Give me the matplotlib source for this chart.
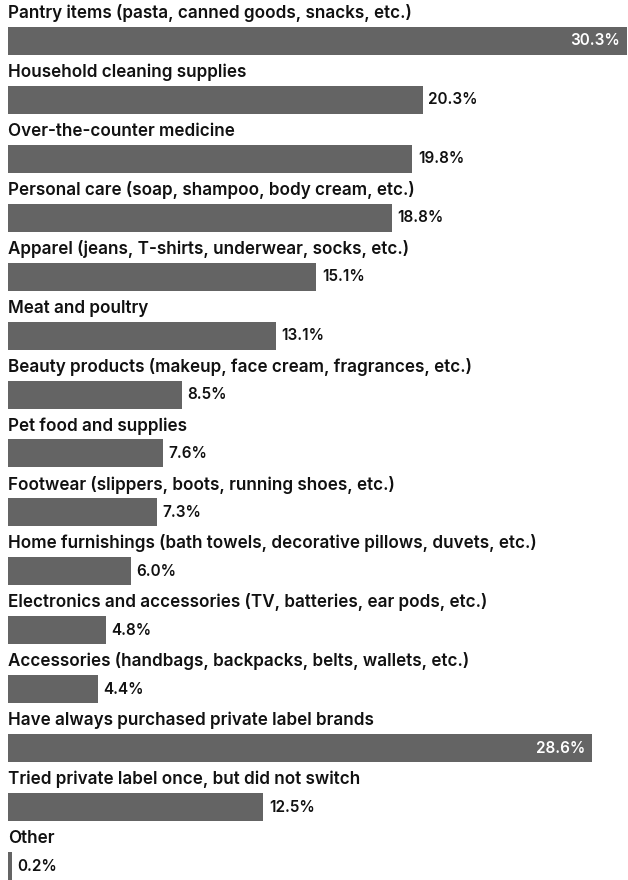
import matplotlib
matplotlib.use("Agg")
import matplotlib.pyplot as plt

categories = [
    "Pantry items (pasta, canned goods, snacks, etc.)",
    "Household cleaning supplies",
    "Over-the-counter medicine",
    "Personal care (soap, shampoo, body cream, etc.)",
    "Apparel (jeans, T-shirts, underwear, socks, etc.)",
    "Meat and poultry",
    "Beauty products (makeup, face cream, fragrances, etc.)",
    "Pet food and supplies",
    "Footwear (slippers, boots, running shoes, etc.)",
    "Home furnishings (bath towels, decorative pillows, duvets, etc.)",
    "Electronics and accessories (TV, batteries, ear pods, etc.)",
    "Accessories (handbags, backpacks, belts, wallets, etc.)",
    "Have always purchased private label brands",
    "Tried private label once, but did not switch",
    "Other",
]
values = [30.3, 20.3, 19.8, 18.8, 15.1, 13.1, 8.5, 7.6, 7.3, 6.0, 4.8, 4.4, 28.6, 12.5, 0.2]

W, H = 628, 880
fig = plt.figure(figsize=(W / 100, H / 100), dpi=100)
ax = fig.add_axes([8 / W, 0, 619 / W, 1])

pitch = (866 - 41) / 14
bh = 28 / pitch
n = len(values)
ys = list(range(n))
ax.barh(ys, values, height=bh, color="#646464", edgecolor="none")
ax.set_xlim(0, 30.3)
ax.set_ylim((H - 41) / pitch, -41 / pitch)
ax.axis("off")

font = "Inter"
for y, cat, v in zip(ys, categories, values):
    ax.annotate(cat, xy=(0, y - bh / 2), xytext=(0, 3.5), textcoords="offset points",
                ha="left", va="bottom", fontsize=12.3, fontweight="semibold",
                family=font, color="#111111", annotation_clip=False)
    label = f"{v:.1f}%"
    if v > 25:
        ax.annotate(label, xy=(v, y), xytext=(-5, 0), textcoords="offset points",
                    ha="right", va="center", fontsize=11, fontweight="semibold",
                    family=font, color="white")
    else:
        ax.annotate(label, xy=(v, y), xytext=(4, 0), textcoords="offset points",
                    ha="left", va="center", fontsize=11, fontweight="semibold",
                    family=font, color="#111111")

fig.savefig("out.png", dpi=100)
